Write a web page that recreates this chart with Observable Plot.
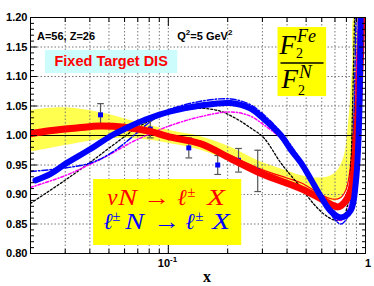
<!DOCTYPE html>
<html><head><meta charset="utf-8">
<script src="https://cdn.jsdelivr.net/npm/d3@7"></script>
<script src="https://cdn.jsdelivr.net/npm/@observablehq/plot@0.6"></script>
<style>body{margin:0;background:#fff}#chart svg{background:#fff}</style>
</head><body><div id="chart"></div>
<script>
// ---- tick values ----
const xTickMajor = [0.1, 1];
const xTickMinor = [0.03,0.04,0.05,0.06,0.07,0.08,0.09,0.2,0.3,0.4,0.5,0.6,0.7,0.8,0.9];
const xGridVals = [0.03,0.04,0.05,0.06,0.07,0.08,0.09,0.1,0.2,0.3,0.4,0.5,0.6,0.7,0.8,0.9];
const yTickMajor = [0.80,0.85,0.90,0.95,1.00,1.05,1.10,1.15,1.20];
const yTickMinor = [0.81,0.82,0.83,0.84,0.86,0.87,0.88,0.89,0.91,0.92,0.93,0.94,0.96,0.97,0.98,0.99,
                    1.01,1.02,1.03,1.04,1.06,1.07,1.08,1.09,1.11,1.12,1.13,1.14,1.16,1.17,1.18,1.19];
const yGridVals = [0.85,0.90,0.95,1.05,1.10,1.15];

// ---- curves ----
const xRed = [0.02,0.025,0.035,0.045,0.06,0.081,0.10,0.146,0.207,0.294,0.47,0.593,0.68,0.726,0.78,0.842,0.892,0.924,0.958];
const yRed = [1.003,1.008,1.013,1.016,1.014,1.007,0.998,0.986,0.961,0.936,0.910,0.893,0.882,0.879,0.886,0.907,0.975,1.06,1.20];

const xRedThin = [0.02,0.045,0.1,0.146,0.207,0.294,0.4,0.47,0.55,0.62,0.69,0.75,0.8,0.84,0.87,0.9,0.93];
const yRedThin = [1.005,1.018,1.0,0.99,0.966,0.943,0.928,0.920,0.907,0.897,0.892,0.895,0.91,0.95,1.02,1.12,1.2];

const xBlue = [0.0212,0.0253,0.0298,0.0403,0.0516,0.0607,0.0767,0.1027,0.146,0.207,0.26,0.305,0.373,0.418,0.47,0.528,0.593,0.665,0.75,0.842,0.892,0.924,0.945];
const yBlue = [0.924,0.935,0.951,0.977,1.000,1.012,1.027,1.041,1.051,1.055,1.046,1.028,1.000,0.976,0.954,0.926,0.897,0.872,0.861,0.873,0.919,1.005,1.20];

const xBlueDD = [0.02,0.03,0.04,0.05,0.06,0.08,0.1,0.146,0.207,0.261,0.305,0.373,0.47,0.593,0.69,0.75,0.81,0.86,0.88,0.895];
const yBlueDD = [0.939,0.945,0.953,0.968,0.987,1.022,1.043,1.058,1.062,1.052,1.035,1.005,0.958,0.898,0.860,0.850,0.862,0.95,1.08,1.2];

const xMag = [0.02,0.03,0.04,0.05,0.0646,0.081,0.1027,0.146,0.207,0.26,0.305,0.373,0.47,0.593,0.69,0.75,0.82,0.87,0.9,0.92];
const yMag = [0.912,0.932,0.951,0.967,0.988,1.003,1.017,1.032,1.040,1.033,1.018,0.995,0.955,0.896,0.862,0.856,0.875,0.96,1.1,1.2];

const xBlk = [0.02,0.0296,0.0403,0.0572,0.0724,0.1027,0.146,0.184,0.225,0.261,0.305,0.373,0.47,0.546,0.62,0.69,0.75,0.81,0.842,0.86,0.88];
const yBlk = [0.885,0.923,0.955,0.993,1.017,1.038,1.046,1.041,1.027,1.013,0.996,0.953,0.912,0.884,0.866,0.857,0.857,0.88,0.95,1.05,1.2];

// ---- yellow uncertainty band ----
const xYel = [0.02,0.025,0.03,0.045,0.065,0.081,0.103,0.146,0.207,0.294,0.4,0.47,0.55,0.65,0.72,0.78,0.82,0.86,0.88,0.92,0.96,0.99];
const yYelLo = [0.972,0.978,0.983,0.993,0.995,0.992,0.986,0.975,0.956,0.932,0.915,0.906,0.898,0.890,0.890,0.900,0.918,0.955,0.99,1.05,1.13,1.2];
const yYelHi = [1.042,1.046,1.047,1.039,1.025,1.017,1.008,0.998,0.98,0.955,0.940,0.932,0.928,0.930,0.940,0.965,1.02,1.12,1.2,1.2,1.2,1.2];

// ---- data points ----
const xPts = [0.0453,0.081,0.127,0.178,0.227,0.284];
const yPts = [1.035,1.011,0.979,0.950,0.958,0.940];
const ePts = [0.019,0.015,0.017,0.016,0.02,0.035];

const rows = (xs, ys) => xs.map((x, i) => ({x, y: ys[i]}));
const band = xYel.map((x, i) => ({x, lo: yYelLo[i], hi: yYelHi[i]}));
const pts = xPts.map((x, i) => ({x, y: yPts[i], e: ePts[i]}));

const SANS = "Liberation Sans, Arial, Helvetica, sans-serif";
const SERIF = "Liberation Serif, Times New Roman, serif";
const C = "catmull-rom";

const chart = Plot.plot({
  width: 374, height: 286,
  marginLeft: 30, marginRight: 9, marginTop: 17, marginBottom: 33,
  style: {fontFamily: SANS, background: "#fff"},
  x: {type: "log", domain: [0.02, 1], label: null},
  y: {domain: [0.8, 1.2], label: null},
  marks: [
    Plot.areaY(band, {x: "x", y1: "lo", y2: "hi", fill: "#ffff50", curve: C, clip: true}),
    Plot.gridX({ticks: xGridVals, stroke: "#777", strokeOpacity: 1, strokeDasharray: "1.5,2"}),
    Plot.gridY({ticks: yGridVals, stroke: "#777", strokeOpacity: 1, strokeDasharray: "1.5,2"}),
    Plot.ruleY([1], {stroke: "#000", strokeWidth: 1}),
    // annotation boxes
    Plot.rect([0], {x1: 0.0238, x2: 0.1117, y1: 1.105, y2: 1.144, fill: "#ccfcfc"}),
    Plot.rect([0], {x1: 0.36, x2: 0.635, y1: 1.066, y2: 1.183, fill: "#ffff00"}),
    Plot.rect([0], {x1: 0.0418, x2: 0.2356, y1: 0.8136, y2: 0.9254, fill: "#ffff00"}),
    // curves
    Plot.line(rows(xRedThin, yRedThin), {x: "x", y: "y", stroke: "#ff0000", strokeWidth: 1.2, curve: C, clip: true}),
    Plot.line(rows(xBlk, yBlk), {x: "x", y: "y", stroke: "#000", strokeWidth: 1.3, strokeDasharray: "2,2", curve: C, clip: true}),
    Plot.line(rows(xMag, yMag), {x: "x", y: "y", stroke: "#ff00ff", strokeWidth: 1.5, strokeDasharray: "3,2,1,2", curve: C, clip: true}),
    Plot.line(rows(xBlueDD, yBlueDD), {x: "x", y: "y", stroke: "#0000ff", strokeWidth: 1.5, strokeDasharray: "6,2,1.5,2", curve: C, clip: true}),
    // error bars and points
    Plot.ruleX(pts, {x: "x", y1: d => d.y - d.e, y2: d => d.y + d.e, stroke: "#555", strokeWidth: 1.2}),
    Plot.link(pts, {x1: d => d.x / 1.04, x2: d => d.x * 1.04, y1: d => d.y + d.e, y2: d => d.y + d.e, stroke: "#555", strokeWidth: 1.2}),
    Plot.link(pts, {x1: d => d.x / 1.04, x2: d => d.x * 1.04, y1: d => d.y - d.e, y2: d => d.y - d.e, stroke: "#555", strokeWidth: 1.2}),
    Plot.dot(pts, {x: "x", y: "y", symbol: "square", r: 2.8, fill: "#0000ff", stroke: null}),
    Plot.line(rows(xRed, yRed), {x: "x", y: "y", stroke: "#ff0000", strokeWidth: 7, curve: C, clip: true}),
    Plot.line(rows(xBlue, yBlue), {x: "x", y: "y", stroke: "#0000ff", strokeWidth: 6, curve: C, clip: true}),
    // frame and ticks
    Plot.frame({stroke: "#000", strokeWidth: 1}),
    Plot.axisY({anchor: "left", ticks: yTickMajor, tickSize: 7, dx: 7, tickFormat: () => "", label: null}),
    Plot.axisY({anchor: "left", ticks: yTickMinor, tickSize: 4, dx: 4, tickFormat: () => "", label: null}),
    Plot.axisY({anchor: "right", ticks: yTickMajor, tickSize: 7, dx: -7, tickFormat: () => "", label: null}),
    Plot.axisY({anchor: "right", ticks: yTickMinor, tickSize: 4, dx: -4, tickFormat: () => "", label: null}),
    Plot.axisX({anchor: "bottom", ticks: xTickMajor, tickSize: 8, dy: -8, tickFormat: () => "", label: null}),
    Plot.axisX({anchor: "bottom", ticks: xTickMinor, tickSize: 4, dy: -4, tickFormat: () => "", label: null}),
    Plot.axisX({anchor: "top", ticks: xTickMajor, tickSize: 8, dy: 8, tickFormat: () => "", label: null}),
    Plot.axisX({anchor: "top", ticks: xTickMinor, tickSize: 4, dy: 4, tickFormat: () => "", label: null}),
    Plot.axisY({anchor: "left", ticks: yTickMajor, tickSize: 0, tickPadding: 3, tickFormat: d => d.toFixed(2),
                fontSize: 11, fontWeight: "bold", fontFamily: SANS, label: null})
  ]
});
document.getElementById("chart").appendChild(chart);

// ---- text annotations placed via the scales ----
const sx = chart.scale("x"), sy = chart.scale("y");
const X = v => sx.apply(v), Y = v => sy.apply(v);
const g = d3.select(chart).append("g").attr("text-anchor", "start");
function txt(x, y, parts, attrs) {
  const t = g.append("text").attr("x", x).attr("y", y).attr("text-anchor", "start");
  for (const [k, v] of Object.entries(attrs || {})) t.attr(k, v);
  for (const p of parts) {
    const s = t.append("tspan").text(p.t);
    for (const [k, v] of Object.entries(p)) if (k !== "t") s.attr(k, v);
  }
  return t;
}
const bold = {"font-family": SANS, "font-weight": "bold", "font-size": 11, fill: "#000"};
txt(X(0.0217), Y(1.161), [{t: "A=56, Z=26"}], bold);
txt(X(0.1117), Y(1.161), [{t: "Q"}, {t: "2", "font-size": 8, dy: -5}, {t: "=5 GeV", dy: 5}, {t: "2", "font-size": 8, dy: -5}], bold);
txt(X(0.0516), Y(1.117), [{t: "Fixed Target DIS"}], {"font-family": SANS, "font-weight": "bold", "font-size": 14.5, fill: "#ff0000", "text-anchor": "middle"});

// fraction F2^Fe / F2^N
const fx = X(0.36), fl = Y(1.122);
const it = {"font-family": SERIF, "font-style": "italic", fill: "#000"};
txt(fx + 2, fl - 9, [
  {t: "F", "font-size": 27},
  {t: "2", "font-size": 14, "font-style": "normal", dx: 0, dy: 4},
  {t: "Fe", "font-size": 18, dx: -6, dy: -16.5}], it);
g.append("line").attr("x1", fx + 3).attr("x2", fx + 46).attr("y1", fl).attr("y2", fl).attr("stroke", "#000").attr("stroke-width", 1.3);
txt(fx + 4, fl + 25, [
  {t: "F", "font-size": 27},
  {t: "2", "font-size": 14, "font-style": "normal", dx: 0, dy: 7},
  {t: "N", "font-size": 19, dx: -6, dy: -17}], it);

// reactions (one text per line, glyphs placed along the line)
const bx = X(0.0418);
const l1 = Y(0.881), l2 = Y(0.841);
const pm = {"font-size": 15, "font-style": "normal"};
const arrow = w => ({"font-style": "normal", textLength: w, lengthAdjust: "spacingAndGlyphs"});
txt(bx, l1, [
  {t: "ν", x: bx + 14, y: l1},
  {t: "N", x: bx + 25, y: l1, textLength: 19, lengthAdjust: "spacingAndGlyphs"},
  {t: "→", x: bx + 50, y: l1, ...arrow(27)},
  {t: "ℓ", x: bx + 84, y: l1},
  {t: "±", x: bx + 94, y: l1 - 8, ...pm},
  {t: "X", x: bx + 114, y: l1, textLength: 18, lengthAdjust: "spacingAndGlyphs"}], {...it, "font-size": 23, fill: "#ff0000"});
txt(bx, l2, [
  {t: "ℓ", x: bx + 10, y: l2},
  {t: "±", x: bx + 19, y: l2 - 8, ...pm},
  {t: "N", x: bx + 32, y: l2, textLength: 19, lengthAdjust: "spacingAndGlyphs"},
  {t: "→", x: bx + 60, y: l2, ...arrow(27)},
  {t: "ℓ", x: bx + 92, y: l2},
  {t: "±", x: bx + 102, y: l2 - 8, ...pm},
  {t: "X", x: bx + 119, y: l2, textLength: 18, lengthAdjust: "spacingAndGlyphs"}], {...it, "font-size": 23, fill: "#0000ff"});

// x tick labels and axis title
const by = Y(0.8);
txt(X(0.1) - 10, by + 14, [{t: "10"}, {t: "-1", "font-size": 8, dy: -5}], bold);
txt(X(1) + 3, by + 14, [{t: "1"}], {...bold, "text-anchor": "middle"});
txt(X(0.158), by + 29, [{t: "x"}], {"font-family": SERIF, "font-weight": "bold", "font-size": 16, "text-anchor": "middle", fill: "#000"});
</script>
</body></html>
